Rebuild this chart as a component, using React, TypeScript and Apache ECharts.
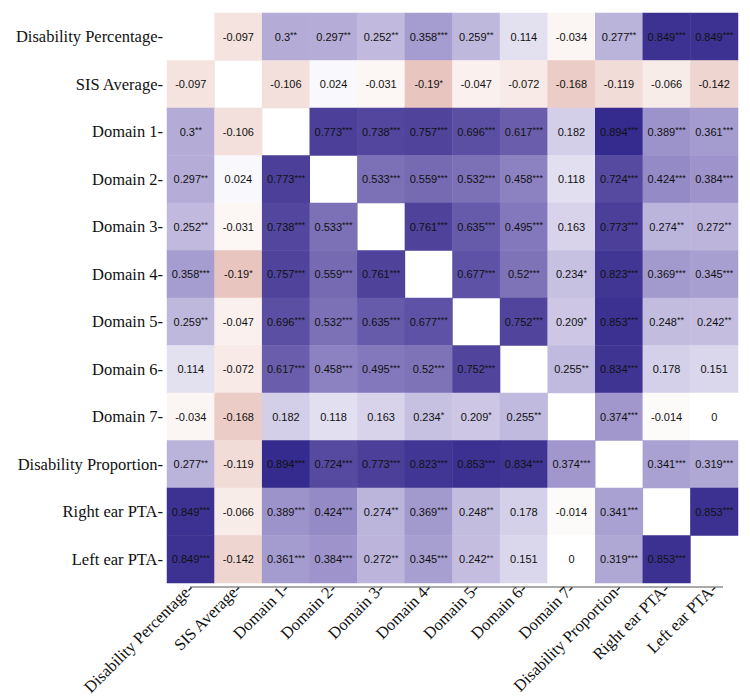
import React, { useEffect, useRef } from "react";
import * as echarts from "echarts";

// Variables, in row/column order of the correlation matrix
const variables = [
  "Disability Percentage",
  "SIS Average",
  "Domain 1",
  "Domain 2",
  "Domain 3",
  "Domain 4",
  "Domain 5",
  "Domain 6",
  "Domain 7",
  "Disability Proportion",
  "Right ear PTA",
  "Left ear PTA",
];

// Correlation coefficients (null on the diagonal)
const rDisabilityPct = [null, -0.097, 0.3, 0.297, 0.252, 0.358, 0.259, 0.114, -0.034, 0.277, 0.849, 0.849];
const rSisAverage = [-0.097, null, -0.106, 0.024, -0.031, -0.19, -0.047, -0.072, -0.168, -0.119, -0.066, -0.142];
const rDomain1 = [0.3, -0.106, null, 0.773, 0.738, 0.757, 0.696, 0.617, 0.182, 0.894, 0.389, 0.361];
const rDomain2 = [0.297, 0.024, 0.773, null, 0.533, 0.559, 0.532, 0.458, 0.118, 0.724, 0.424, 0.384];
const rDomain3 = [0.252, -0.031, 0.738, 0.533, null, 0.761, 0.635, 0.495, 0.163, 0.773, 0.274, 0.272];
const rDomain4 = [0.358, -0.19, 0.757, 0.559, 0.761, null, 0.677, 0.52, 0.234, 0.823, 0.369, 0.345];
const rDomain5 = [0.259, -0.047, 0.696, 0.532, 0.635, 0.677, null, 0.752, 0.209, 0.853, 0.248, 0.242];
const rDomain6 = [0.114, -0.072, 0.617, 0.458, 0.495, 0.52, 0.752, null, 0.255, 0.834, 0.178, 0.151];
const rDomain7 = [-0.034, -0.168, 0.182, 0.118, 0.163, 0.234, 0.209, 0.255, null, 0.374, -0.014, 0];
const rDisabilityProp = [0.277, -0.119, 0.894, 0.724, 0.773, 0.823, 0.853, 0.834, 0.374, null, 0.341, 0.319];
const rRightPta = [0.849, -0.066, 0.389, 0.424, 0.274, 0.369, 0.248, 0.178, -0.014, 0.341, null, 0.853];
const rLeftPta = [0.849, -0.142, 0.361, 0.384, 0.272, 0.345, 0.242, 0.151, 0, 0.319, 0.853, null];

// Significance marks for each coefficient
const sDisabilityPct = ["", "", "**", "**", "**", "***", "**", "", "", "**", "***", "***"];
const sSisAverage = ["", "", "", "", "", "*", "", "", "", "", "", ""];
const sDomain1 = ["**", "", "", "***", "***", "***", "***", "***", "", "***", "***", "***"];
const sDomain2 = ["**", "", "***", "", "***", "***", "***", "***", "", "***", "***", "***"];
const sDomain3 = ["**", "", "***", "***", "", "***", "***", "***", "", "***", "**", "**"];
const sDomain4 = ["***", "*", "***", "***", "***", "", "***", "***", "*", "***", "***", "***"];
const sDomain5 = ["**", "", "***", "***", "***", "***", "", "***", "*", "***", "**", "**"];
const sDomain6 = ["", "", "***", "***", "***", "***", "***", "", "**", "***", "", ""];
const sDomain7 = ["", "", "", "", "", "*", "*", "**", "", "***", "", ""];
const sDisabilityProp = ["**", "", "***", "***", "***", "***", "***", "***", "***", "", "***", "***"];
const sRightPta = ["***", "", "***", "***", "**", "***", "**", "", "", "***", "", "***"];
const sLeftPta = ["***", "", "***", "***", "**", "***", "**", "", "", "***", "***", ""];

const coefRows = [
  rDisabilityPct, rSisAverage, rDomain1, rDomain2, rDomain3, rDomain4,
  rDomain5, rDomain6, rDomain7, rDisabilityProp, rRightPta, rLeftPta,
];
const starRows = [
  sDisabilityPct, sSisAverage, sDomain1, sDomain2, sDomain3, sDomain4,
  sDomain5, sDomain6, sDomain7, sDisabilityProp, sRightPta, sLeftPta,
];

// Diverging palette from -1 (red) through 0 (white) to 1 (purple), one stop per 0.1
const palette = [
  "#7f1d1d", "#8f2d28", "#9f3d35", "#ae4e44", "#bd6054", "#c97365",
  "#d48678", "#df9d90", "#e8c2bb", "#f4e2de", "#ffffff",
  "#e6e3f2", "#cfcae6", "#b4acd7", "#9a90c9", "#8377bb",
  "#6d61ae", "#5a4ea3", "#463a96", "#34298c", "#271c80",
];

export default function App() {
  const ref = useRef<HTMLDivElement>(null);

  useEffect(() => {
    if (!ref.current) return;
    const chart = echarts.init(ref.current, null, { renderer: "svg" });

    const cells: any[] = [];
    coefRows.forEach((row, yi) => {
      row.forEach((v, xi) => {
        if (v === null) return;
        cells.push({ value: [xi, yi, v], stars: starRows[yi][xi] });
      });
    });

    const serif = "Liberation Serif";
    const sans = "Liberation Sans";

    chart.setOption({
      animation: false,
      backgroundColor: "#ffffff",
      grid: { left: 167, top: 13, right: 12, bottom: 116 },
      xAxis: {
        type: "category",
        data: variables,
        axisLine: { show: false },
        axisTick: { show: false },
        splitArea: { show: false },
        axisLabel: {
          interval: 0,
          rotate: 45,
          margin: 3,
          fontFamily: serif,
          fontSize: 16.5,
          color: "#111111",
          formatter: (n: string) => n + "-",
        },
      },
      yAxis: {
        type: "category",
        data: variables,
        inverse: true,
        axisLine: { show: false },
        axisTick: { show: false },
        splitArea: { show: false },
        axisLabel: {
          interval: 0,
          margin: 4,
          fontFamily: serif,
          fontSize: 16.5,
          color: "#111111",
          formatter: (n: string) => n + "-",
        },
      },
      visualMap: {
        show: false,
        type: "continuous",
        min: -1,
        max: 1,
        dimension: 2,
        inRange: { color: palette },
      },
      graphic: [
        {
          type: "line",
          shape: { x1: 190, y1: 587, x2: 723, y2: 587 },
          style: { stroke: "#555555", lineWidth: 1 },
          silent: true,
        },
      ],
      series: [
        {
          type: "heatmap",
          data: cells,
          itemStyle: { borderWidth: 0 },
          label: {
            show: true,
            color: "#111111",
            formatter: (p: any) => {
              const v = p.value[2];
              const s = p.data.stars;
              return s ? `{v|${v}}{s|${s}}` : `{v|${v}}`;
            },
            rich: {
              v: {
                fontFamily: sans,
                fontSize: 11,
                lineHeight: 14,
                color: "#111111",
              },
              s: {
                fontFamily: sans,
                fontSize: 9,
                lineHeight: 14,
                verticalAlign: "top",
                padding: [1, 0, 0, 0],
                color: "#111111",
              },
            },
          },
          emphasis: { disabled: true },
        },
      ],
    });

    return () => chart.dispose();
  }, []);

  return (
    <div
      ref={ref}
      style={{ position: "fixed", left: 0, top: 0, width: 750, height: 699, background: "#fff" }}
    />
  );
}
